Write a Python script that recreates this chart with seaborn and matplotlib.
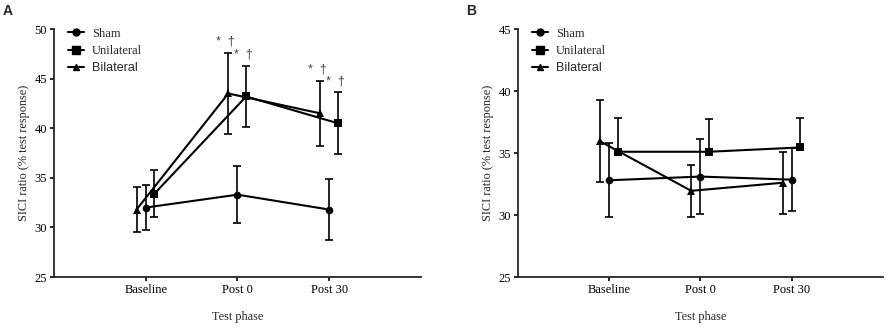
import pandas as pd
import numpy as np
import matplotlib
matplotlib.use('Agg')
import matplotlib.pyplot as plt
import seaborn as sns

# data (mean and SD of SICI ratio)
phases = ['Baseline', 'Post 0', 'Post 30']
groups = ['Sham', 'Unilateral', 'Bilateral']

a_sham = [32.0, 33.3, 31.8]
a_sham_sd = [2.3, 2.9, 3.1]
a_uni = [33.4, 43.2, 40.5]
a_uni_sd = [2.4, 3.1, 3.1]
a_bil = [31.8, 43.5, 41.5]
a_bil_sd = [2.3, 4.1, 3.3]

b_sham = [32.8, 33.1, 32.85]
b_sham_sd = [3.0, 3.05, 2.55]
b_uni = [35.1, 35.1, 35.45]
b_uni_sd = [2.7, 2.65, 2.35]
b_bil = [35.95, 31.95, 32.6]
b_bil_sd = [3.3, 2.1, 2.5]

# significance marks in panel A: (group, phase index)
a_sig = [('Bilateral', 1), ('Unilateral', 1), ('Bilateral', 2), ('Unilateral', 2)]

# styling
offsets = {'Sham': 0.0, 'Unilateral': 0.095, 'Bilateral': -0.1}
markers = {'Sham': 'o', 'Unilateral': 's', 'Bilateral': '^'}
msizes = {'Sham': 5, 'Unilateral': 5.5, 'Bilateral': 5}

sns.set_style('ticks')
plt.rcParams['font.family'] = ['Liberation Serif', 'DejaVu Serif']
plt.rcParams['axes.linewidth'] = 1.3
plt.rcParams['xtick.major.width'] = 1.2
plt.rcParams['ytick.major.width'] = 1.2


def make_df(sham, sham_sd, uni, uni_sd, bil, bil_sd):
    rows = []
    for g, m, s in [('Sham', sham, sham_sd), ('Unilateral', uni, uni_sd), ('Bilateral', bil, bil_sd)]:
        for i, p in enumerate(phases):
            rows.append({'group': g, 'phase': p, 'pos': i + offsets[g], 'mean': m[i], 'sd': s[i]})
    return pd.DataFrame(rows)


df_a = make_df(a_sham, a_sham_sd, a_uni, a_uni_sd, a_bil, a_bil_sd)
df_b = make_df(b_sham, b_sham_sd, b_uni, b_uni_sd, b_bil, b_bil_sd)

fig = plt.figure(figsize=(8.92, 3.30), dpi=100)
ax_a = fig.add_axes([0.0605, 0.1606, 0.4114, 0.7515])
ax_b = fig.add_axes([0.5804, 0.1606, 0.4095, 0.7515])


def draw(ax, df, ymax, upper_only=()):
    sns.lineplot(data=df, x='pos', y='mean', hue='group', style='group',
                 hue_order=groups, style_order=groups,
                 palette=['black'] * 3, markers=markers, dashes=False,
                 linewidth=1.5, markersize=5.5, markeredgewidth=0,
                 ax=ax, legend=False, zorder=3)
    for g in groups:
        d = df[df['group'] == g]
        if g in upper_only:
            yerr = [np.zeros(len(d)), d['sd'].values]
        else:
            yerr = d['sd'].values
        ax.errorbar(d['pos'], d['mean'], yerr=yerr, fmt='none', ecolor='black',
                    elinewidth=1.2, capsize=2.6, capthick=1.2, zorder=2)
    ax.set_xlim(-1, 3)
    ax.set_ylim(25, ymax)
    ax.set_yticks(np.arange(25, ymax + 1, 5))
    ax.set_xticks(range(len(phases)))
    ax.set_xticklabels(phases)
    ax.tick_params(axis='both', labelsize=9, length=3, pad=2, colors='black')
    ax.set_xlabel('Test phase', fontsize=8.8, labelpad=11)
    ax.set_ylabel('SICI ratio (% test response)', fontsize=8.8, labelpad=3)
    sns.despine(ax=ax)
    # legend
    handles = [plt.Line2D([], [], color='black', lw=1.5, marker=markers[g],
                          markersize=msizes[g]) for g in groups]
    leg = ax.legend(handles, groups, loc='upper left', bbox_to_anchor=(0.008, 1.05),
                    frameon=False, fontsize=9, handlelength=1.25,
                    handletextpad=0.65, labelspacing=0.42)
    leg.get_texts()[2].set_fontfamily('Liberation Sans')


draw(ax_a, df_a, 50)
draw(ax_b, df_b, 45, upper_only=('Unilateral',))

for g, i in a_sig:
    r = df_a[(df_a['group'] == g) & (df_a['phase'] == phases[i])].iloc[0]
    ax_a.text(r['pos'] - 0.03, r['mean'] + r['sd'] + 0.5, '*  \u2020', ha='center', va='bottom',
              fontsize=9, color='#444444', family=['Liberation Sans', 'DejaVu Sans'])

fig.text(0.003, 0.955, 'A', fontsize=10, fontweight='bold', family='Liberation Sans')
fig.text(0.523, 0.955, 'B', fontsize=10, fontweight='bold', family='Liberation Sans')

fig.savefig('out.png', dpi=100)
